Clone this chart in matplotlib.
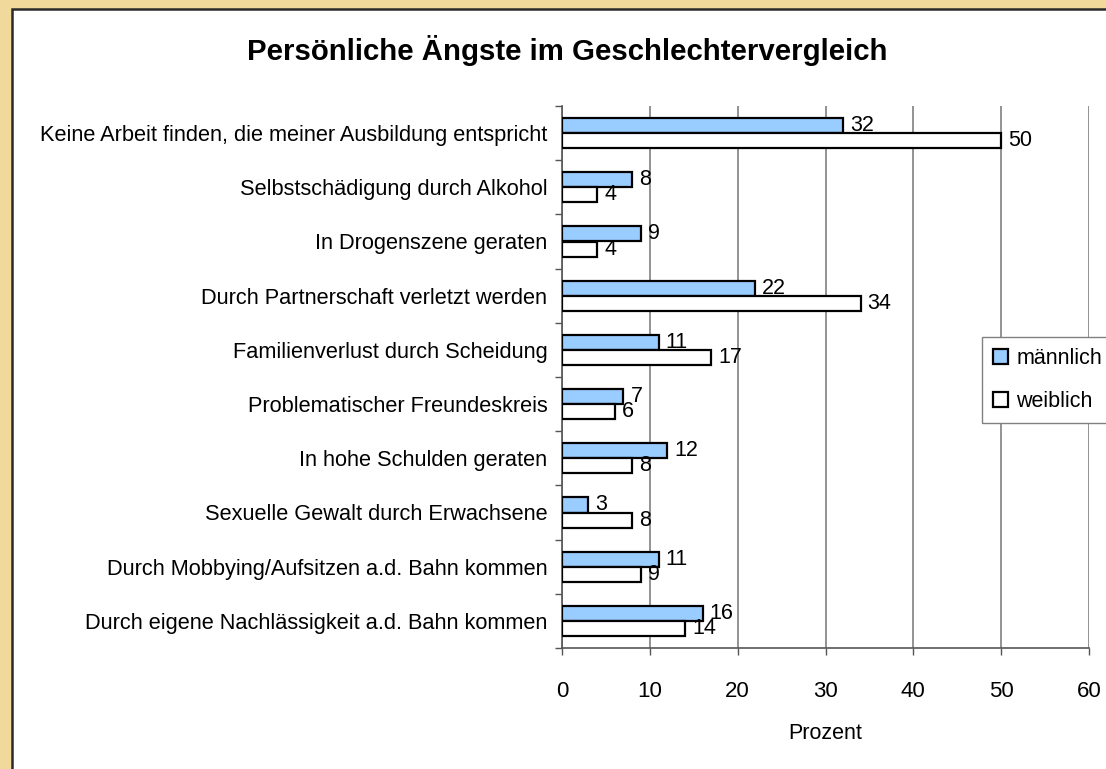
import numpy as np
import matplotlib
matplotlib.use("Agg")
import matplotlib.pyplot as plt
from matplotlib.patches import Rectangle, Patch

plt.rcParams['font.family'] = ['Liberation Sans', 'DejaVu Sans']

categories = [
    "Keine Arbeit finden, die meiner Ausbildung entspricht",
    "Selbstschädigung durch Alkohol",
    "In Drogenszene geraten",
    "Durch Partnerschaft verletzt werden",
    "Familienverlust durch Scheidung",
    "Problematischer Freundeskreis",
    "In hohe Schulden geraten",
    "Sexuelle Gewalt durch Erwachsene",
    "Durch Mobbying/Aufsitzen a.d. Bahn kommen",
    "Durch eigene Nachlässigkeit a.d. Bahn kommen",
]
maennlich = [32, 8, 9, 22, 11, 7, 12, 3, 11, 16]
weiblich = [50, 4, 4, 34, 17, 6, 8, 8, 9, 14]
x_ticks = [0, 10, 20, 30, 40, 50, 60]

W, H = 1106, 769
fig = plt.figure(figsize=(W / 100, H / 100), dpi=100)
fig.patch.set_facecolor('#f1d99b')

# white chart area with dark border (runs off right/bottom edge)
frame = Rectangle((12 / W, -0.05), 1.1, 1 - 9 / H + 0.05, transform=fig.transFigure,
                  facecolor='white', edgecolor='#2a2a2a', linewidth=1.8, zorder=-10)
fig.patches.append(frame)

fig.text(567 / W, 1 - 50 / H, "Persönliche Ängste im Geschlechtervergleich",
         ha='center', va='center', fontsize=21.2, fontweight='bold')

ax = fig.add_axes([562 / W, 1 - 648 / H, (1089 - 562) / W, (648 - 106) / H])
ax.set_facecolor('none')

pos = np.arange(len(categories)) + 0.5
h = 0.28
b1 = ax.barh(pos - h / 2, maennlich, height=h, color='#99ccff', edgecolor='black',
             linewidth=1.6, zorder=3)
b2 = ax.barh(pos + h / 2, weiblich, height=h, color='white', edgecolor='black',
             linewidth=1.6, zorder=3)

for bars, vals in ((b1, maennlich), (b2, weiblich)):
    for bar, v in zip(bars, vals):
        ax.annotate(str(v), (v, bar.get_y() + bar.get_height() / 2),
                    xytext=(5, 0), textcoords='offset points',
                    ha='left', va='center', fontsize=15.5, zorder=4)

ax.set_xlim(0, 60)
ax.set_ylim(10, 0)
ax.set_xticks(x_ticks)
ax.xaxis.grid(True, color='#808080', linewidth=1.2, zorder=0)
ax.set_axisbelow(True)

ax.set_yticks(np.arange(11))
ax.set_yticklabels([])
ax.set_yticks(pos, minor=True)
ax.set_yticklabels(categories, minor=True, fontsize=15.7)
ax.tick_params(axis='y', which='major', length=5, width=1, color='#555555', direction='out')
ax.tick_params(axis='y', which='minor', length=0, pad=10.5)
ax.tick_params(axis='x', length=5, width=1, color='#555555', pad=19, labelsize=16)

for s in ('top', 'right'):
    ax.spines[s].set_visible(False)
for s in ('left', 'bottom'):
    ax.spines[s].set_color('#555555')
    ax.spines[s].set_linewidth(1.2)

ax.set_xlabel("Prozent", fontsize=15.5, labelpad=15)

handles = [Patch(facecolor='#99ccff', edgecolor='black', linewidth=1.6),
           Patch(facecolor='white', edgecolor='black', linewidth=1.6)]
leg = fig.legend(handles, ["männlich", "weiblich"], loc='upper left',
                 bbox_to_anchor=(982 / W, 1 - 337 / H), bbox_transform=fig.transFigure,
                 fontsize=15.5, frameon=True, fancybox=False, shadow=False,
                 edgecolor='#808080', framealpha=1, borderpad=0.5,
                 handlelength=0.7, handleheight=0.7, handletextpad=0.4,
                 labelspacing=1.05, borderaxespad=0)
leg.get_frame().set_linewidth(1.0)

fig.savefig("out.png", dpi=100, facecolor=fig.get_facecolor())
